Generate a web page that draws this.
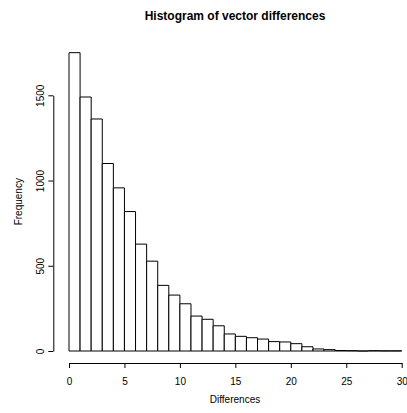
<!DOCTYPE html>
<html>
<head>
<meta charset="utf-8">
<script src="https://cdn.jsdelivr.net/npm/d3@7"></script>
<style>
  body { margin: 0; background: #fff; }
  svg { display: block; font-family: 'Liberation Sans', Arial, Helvetica, sans-serif; }
  .bar { fill: #fff; stroke: #000; stroke-width: 1; }
  .axis path, .axis line { stroke: #000; stroke-width: 1; }
  .axis text { font-size: 10px; fill: #000; }
  .axis-label { font-size: 10px; fill: #000; }
  .title { font-size: 12px; font-weight: bold; fill: #000; }
</style>
</head>
<body>
<svg id="hist"></svg>
<script>
const { select, scaleLinear, axisLeft, axisBottom, format } = d3

// histogram of vector differences, bin width 1
const binStarts = d3.range(0, 30)
const counts = [1750, 1490, 1361, 1100, 957, 818, 627, 527, 385, 328,
                277, 205, 186, 148, 100, 86, 78, 70, 55, 53,
                43, 25, 12, 8, 3, 2, 0, 2, 1, 1]
const xTicks = [0, 5, 10, 15, 20, 25, 30]
const yTicks = [0, 500, 1000, 1500]

const width = 407, height = 413

const svg = select('svg#hist')
  .attr('width', width)
  .attr('height', height)
  .attr('viewBox', [0, 0, width, height])

const render = () => {
  const xScale = scaleLinear()
    .domain([0, 30])
    .range([69, 401.7])

  const yScale = scaleLinear()
    .domain([0, 1500])
    .range([351, 95.3])

  const data = binStarts.map((x0, i) => ({ x0, x1: x0 + 1, n: counts[i] }))

  // paths instead of rects so empty bins still show as a line, like R does
  svg.selectAll('.bar').data(data)
    .enter().append('path')
      .attr('class', 'bar')
      .attr('d', d => {
        const a = xScale(d.x0), b = xScale(d.x1)
        const y0 = yScale(0), y1 = yScale(d.n)
        return `M${a},${y0}H${b}V${y1}H${a}Z`
      })

  const xAxisG = svg.append('g')
    .attr('class', 'axis')
    .attr('transform', 'translate(0, 363)')
    .call(axisBottom(xScale).tickValues(xTicks).tickFormat(format('d'))
      .tickSize(5).tickSizeOuter(0).tickPadding(10))
  xAxisG.attr('font-family', null).attr('font-size', null)

  const yAxisG = svg.append('g')
    .attr('class', 'axis')
    .attr('transform', 'translate(53.3, 0)')
    .call(axisLeft(yScale).tickValues(yTicks).tickFormat(format('d'))
      .tickSize(5).tickSizeOuter(0))
  yAxisG.attr('font-family', null).attr('font-size', null)
  yAxisG.selectAll('.tick text')
    .attr('transform', 'rotate(-90)')
    .attr('text-anchor', 'middle')
    .attr('x', 0)
    .attr('y', -9.5)
    .attr('dy', null)

  svg.append('text')
    .attr('class', 'title')
    .attr('x', 235)
    .attr('y', 19.5)
    .attr('text-anchor', 'middle')
    .text('Histogram of vector differences')

  svg.append('text')
    .attr('class', 'axis-label')
    .attr('x', 235)
    .attr('y', 403)
    .attr('text-anchor', 'middle')
    .text('Differences')

  svg.append('text')
    .attr('class', 'axis-label')
    .attr('transform', 'translate(21.5, 201.7) rotate(-90)')
    .attr('text-anchor', 'middle')
    .text('Frequency')
}

render()
</script>
</body>
</html>
